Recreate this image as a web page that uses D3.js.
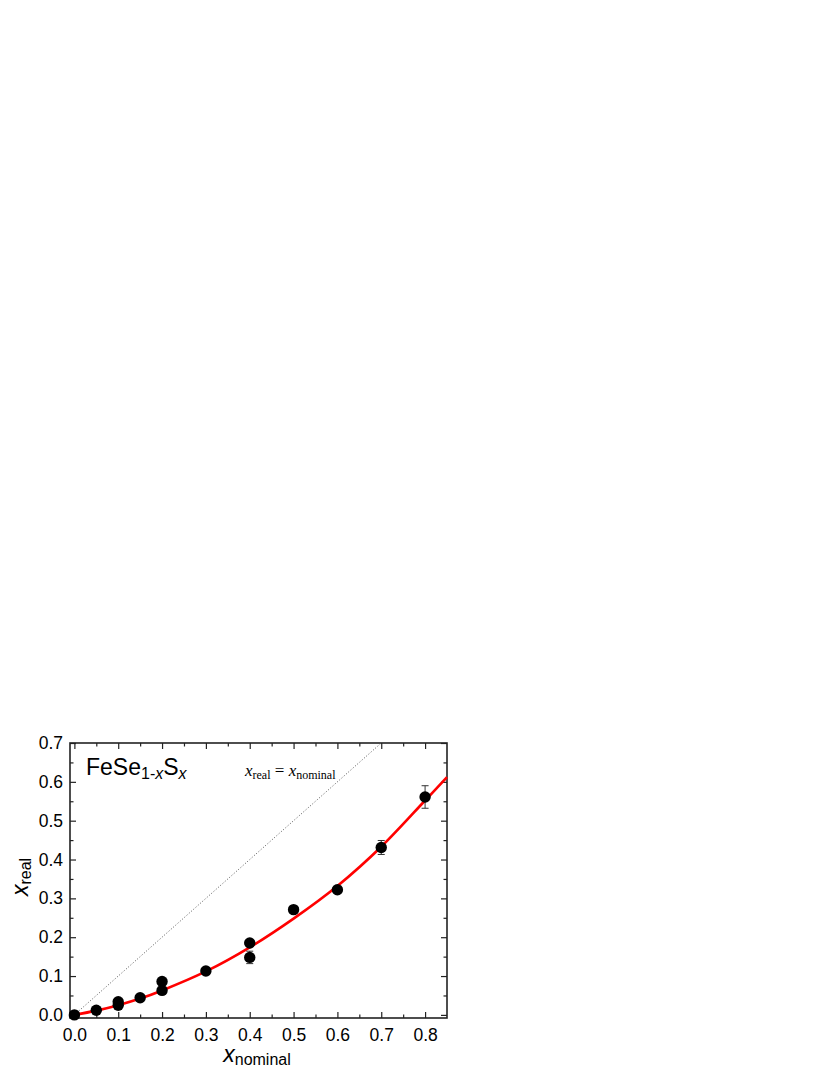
<!DOCTYPE html>
<html>
<head>
<meta charset="utf-8">
<script src="https://cdn.jsdelivr.net/npm/d3@7"></script>
<style>
  body { margin: 0; background: #fff; }
  svg { display: block; }
  .tick text { font-family: Arial, "Liberation Sans", sans-serif; }
</style>
</head>
<body>
<svg width="830" height="1075"></svg>
<script>
// measured points, x nominal vs x real
var xNominal = [0.0, 0.05, 0.1, 0.1, 0.15, 0.2, 0.2, 0.3, 0.4, 0.4, 0.5, 0.6, 0.7, 0.8];
var xReal    = [0.0, 0.012, 0.025, 0.034, 0.044, 0.063, 0.086, 0.113, 0.185, 0.148, 0.271, 0.322, 0.431, 0.561];
var xErr     = [0, 0, 0, 0, 0, 0, 0, 0, 0, 0.016, 0, 0.007, 0.018, 0.029];

// red fit curve
var fitX = [0.0, 0.05, 0.1, 0.15, 0.2, 0.3, 0.4, 0.5, 0.6, 0.7, 0.8, 0.85];
var fitY = [0.0, 0.011, 0.025, 0.042, 0.063, 0.112, 0.174, 0.248, 0.332, 0.433, 0.552, 0.612];

// guide line x_real = x_nominal
var guideX = [0.0, 0.7];
var guideY = [0.0, 0.7];

var xTicks = [0.0, 0.1, 0.2, 0.3, 0.4, 0.5, 0.6, 0.7, 0.8];
var yTicks = [0.0, 0.1, 0.2, 0.3, 0.4, 0.5, 0.6, 0.7];

var pLeft = 70, pRight = 447, pTop = 743, pBottom = 1018;

var svg = d3.select("svg");
var x = d3.scaleLinear().domain([-0.01, 0.85]).range([pLeft, pRight]);
var y = d3.scaleLinear().domain([-0.008, 0.7]).range([pBottom, pTop]);

var fmt = d3.format(".1f");
var minorX = d3.range(0.05, 0.85, 0.1);
var minorY = d3.range(0.05, 0.7, 0.1);

function axisStyle(g){
  g.select(".domain").remove();
  g.selectAll("line").attr("stroke", "#222").attr("stroke-width", 1.2);
}

// bottom
svg.append("g").attr("transform", "translate(0," + pBottom + ")")
  .call(d3.axisBottom(x).tickValues(xTicks).tickFormat(fmt).tickSizeInner(-6).tickPadding(11))
  .call(axisStyle)
  .selectAll("text").attr("font-size", 17.5).attr("fill", "#000");
svg.append("g").attr("transform", "translate(0," + pBottom + ")")
  .call(d3.axisBottom(x).tickValues(minorX).tickFormat("").tickSizeInner(-3.5))
  .call(axisStyle);
// top
svg.append("g").attr("transform", "translate(0," + pTop + ")")
  .call(d3.axisTop(x).tickValues(xTicks).tickFormat("").tickSizeInner(-6))
  .call(axisStyle);
svg.append("g").attr("transform", "translate(0," + pTop + ")")
  .call(d3.axisTop(x).tickValues(minorX).tickFormat("").tickSizeInner(-3.5))
  .call(axisStyle);
// left
svg.append("g").attr("transform", "translate(" + pLeft + ",0)")
  .call(d3.axisLeft(y).tickValues(yTicks).tickFormat(fmt).tickSizeInner(-6).tickPadding(7))
  .call(axisStyle)
  .selectAll("text").attr("font-size", 17.5).attr("fill", "#000");
svg.append("g").attr("transform", "translate(" + pLeft + ",0)")
  .call(d3.axisLeft(y).tickValues(minorY).tickFormat("").tickSizeInner(-3.5))
  .call(axisStyle);
// right
svg.append("g").attr("transform", "translate(" + pRight + ",0)")
  .call(d3.axisRight(y).tickValues(yTicks).tickFormat("").tickSizeInner(-6))
  .call(axisStyle);
svg.append("g").attr("transform", "translate(" + pRight + ",0)")
  .call(d3.axisRight(y).tickValues(minorY).tickFormat("").tickSizeInner(-3.5))
  .call(axisStyle);

// frame
svg.append("rect")
  .attr("x", pLeft).attr("y", pTop)
  .attr("width", pRight - pLeft).attr("height", pBottom - pTop)
  .attr("fill", "none").attr("stroke", "#222").attr("stroke-width", 1.6);

var line = d3.line().x(function(d){ return x(d[0]); }).y(function(d){ return y(d[1]); });

// dotted guide
svg.append("path")
  .datum(d3.zip(guideX, guideY))
  .attr("d", line)
  .attr("fill", "none").attr("stroke", "#555").attr("stroke-width", 1)
  .attr("stroke-dasharray", "1,2");

// fit
svg.append("path")
  .datum(d3.zip(fitX, fitY))
  .attr("d", line.curve(d3.curveCatmullRom))
  .attr("fill", "none").attr("stroke", "#f00").attr("stroke-width", 2.6);

var pts = d3.zip(xNominal, xReal, xErr);

// error bars
var eb = svg.append("g").selectAll("g")
  .data(pts.filter(function(d){ return d[2] > 0; }))
  .enter().append("g").attr("stroke", "#333").attr("stroke-width", 1);
eb.append("line")
  .attr("x1", function(d){ return x(d[0]); }).attr("x2", function(d){ return x(d[0]); })
  .attr("y1", function(d){ return y(d[1] - d[2]); }).attr("y2", function(d){ return y(d[1] + d[2]); });
eb.append("line")
  .attr("x1", function(d){ return x(d[0]) - 3.5; }).attr("x2", function(d){ return x(d[0]) + 3.5; })
  .attr("y1", function(d){ return y(d[1] - d[2]); }).attr("y2", function(d){ return y(d[1] - d[2]); });
eb.append("line")
  .attr("x1", function(d){ return x(d[0]) - 3.5; }).attr("x2", function(d){ return x(d[0]) + 3.5; })
  .attr("y1", function(d){ return y(d[1] + d[2]); }).attr("y2", function(d){ return y(d[1] + d[2]); });

// points
svg.append("g").selectAll("circle")
  .data(pts)
  .enter().append("circle")
    .attr("cx", function(d){ return x(d[0]); })
    .attr("cy", function(d){ return y(d[1]); })
    .attr("r", 5.7)
    .attr("fill", "#000");

// FeSe1-xSx
var t = svg.append("text")
  .attr("x", 86).attr("y", 775)
  .attr("font-family", "Arial, 'Liberation Sans', sans-serif")
  .attr("font-size", 23);
t.append("tspan").text("FeSe");
t.append("tspan").attr("font-size", 16).attr("dy", 4).text("1-");
t.append("tspan").attr("font-size", 16).attr("font-style", "italic").text("x");
t.append("tspan").attr("dy", -4).text("S");
t.append("tspan").attr("font-size", 16).attr("font-style", "italic").attr("dy", 4).text("x");

// x_real = x_nominal
var e = svg.append("text")
  .attr("x", 245).attr("y", 776)
  .attr("font-family", "'Liberation Serif', 'DejaVu Serif', serif")
  .attr("font-size", 17);
e.append("tspan").attr("font-style", "italic").text("x");
e.append("tspan").attr("font-size", 12).attr("dy", 3).text("real");
e.append("tspan").attr("dy", -3).text(" = ");
e.append("tspan").attr("font-style", "italic").text("x");
e.append("tspan").attr("font-size", 12).attr("dy", 3).text("nominal");

// axis titles
var xl = svg.append("text")
  .attr("x", 257).attr("y", 1062)
  .attr("text-anchor", "middle")
  .attr("font-family", "Arial, 'Liberation Sans', sans-serif")
  .attr("font-size", 23);
xl.append("tspan").attr("font-style", "italic").text("x");
xl.append("tspan").attr("font-size", 16).attr("dy", 3).text("nominal");

var yl = svg.append("text")
  .attr("transform", "translate(28,877) rotate(-90)")
  .attr("text-anchor", "middle")
  .attr("font-family", "Arial, 'Liberation Sans', sans-serif")
  .attr("font-size", 23);
yl.append("tspan").attr("font-style", "italic").text("x");
yl.append("tspan").attr("font-size", 16).attr("dy", 3).text("real");
</script>
</body>
</html>
